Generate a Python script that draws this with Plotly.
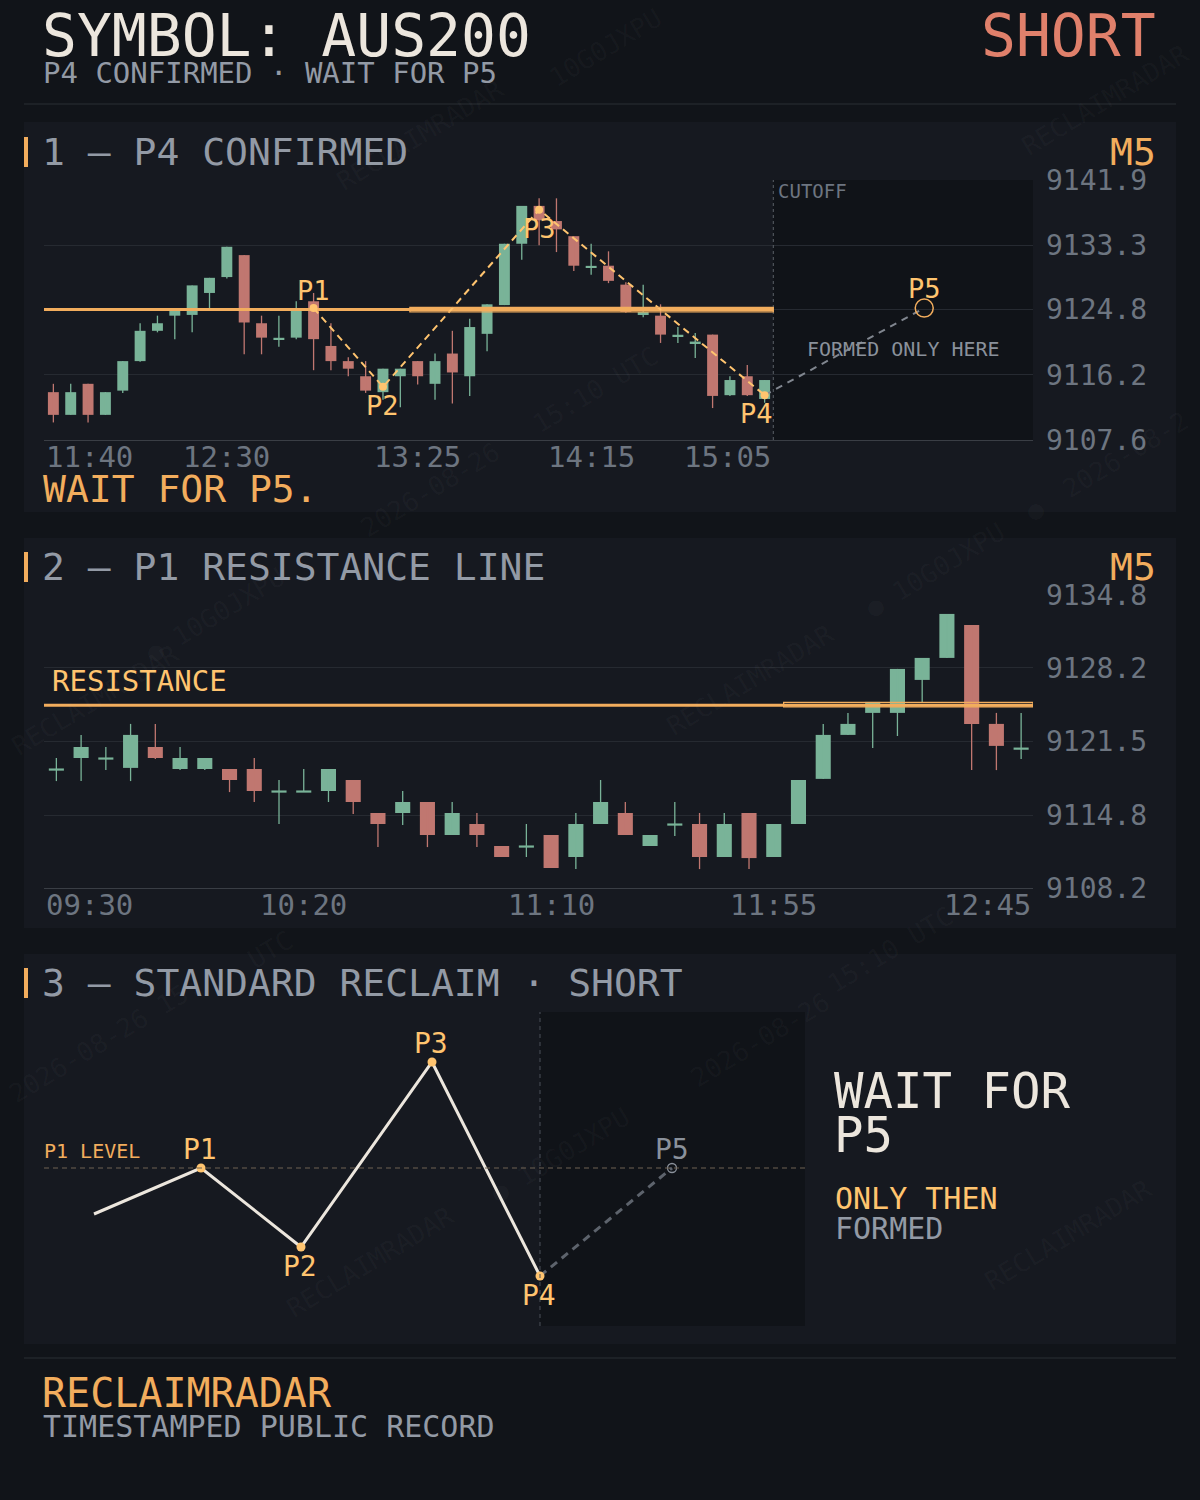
import plotly.graph_objects as go

# ---------------- data ----------------
symbol = "AUS200"
direction = "SHORT"
timeframe = "M5"
status = "P4 CONFIRMED · WAIT FOR P5"

# Panel 1 – P4 confirmed (M5 candles 11:40 -> 15:05)
p1_open = [9113.9, 9110.9, 9115.0, 9110.9, 9114.1, 9118.0, 9122.0, 9124.0, 9124.1, 9127.0,
           9129.1, 9132.0, 9123.0, 9120.9, 9121.1, 9125.9, 9120.0, 9118.0, 9116.0, 9113.9,
           9116.0, 9118.0, 9115.0, 9119.0, 9116.0, 9121.6, 9125.4, 9133.5, 9138.5, 9136.5,
           9134.5, 9130.4, 9130.6, 9128.1, 9124.3, 9124.0, 9121.3, 9120.4, 9121.5, 9113.5,
           9116.0, 9113.0]
p1_high = [9115.0, 9115.0, 9115.0, 9113.9, 9118.0, 9123.0, 9124.0, 9125.0, 9128.0, 9129.0,
           9133.1, 9132.0, 9124.0, 9124.0, 9125.9, 9127.0, 9123.0, 9118.5, 9118.0, 9117.0,
           9117.0, 9118.0, 9119.0, 9122.0, 9123.6, 9125.5, 9133.5, 9138.5, 9139.5, 9139.5,
           9134.5, 9133.5, 9132.5, 9128.4, 9128.1, 9125.5, 9122.5, 9121.7, 9121.5, 9116.0,
           9117.5, 9115.5]
p1_low = [9109.9, 9110.9, 9109.9, 9110.9, 9113.8, 9117.9, 9121.8, 9120.9, 9121.8, 9124.9,
          9128.9, 9118.9, 9118.9, 9119.9, 9120.9, 9116.8, 9116.8, 9116.0, 9113.8, 9112.9,
          9111.9, 9114.9, 9112.9, 9112.4, 9113.4, 9119.3, 9125.4, 9131.4, 9133.3, 9132.4,
          9129.9, 9129.4, 9128.3, 9124.4, 9123.8, 9120.4, 9120.4, 9118.4, 9111.8, 9113.4,
          9113.4, 9112.5]
p1_close = [9110.9, 9113.9, 9110.9, 9113.9, 9118.0, 9122.0, 9123.0, 9125.0, 9128.0, 9129.0,
            9133.1, 9123.1, 9121.1, 9121.0, 9125.0, 9120.9, 9118.0, 9117.0, 9114.1, 9117.0,
            9117.0, 9116.0, 9118.0, 9116.5, 9122.5, 9125.5, 9133.5, 9138.5, 9136.6, 9135.4,
            9130.6, 9130.5, 9128.6, 9124.5, 9124.4, 9121.5, 9121.4, 9120.5, 9113.4, 9115.5,
            9113.5, 9115.5]
p1_time_labels = ["11:40", "12:30", "13:25", "14:15", "15:05"]
p1_time_index = [0, 10, 21, 31, 41]
p1_yticks = [9107.6, 9116.2, 9124.8, 9133.3, 9141.9]
p1_point_labels = ["P1", "P2", "P3", "P4"]
p1_point_index = [15, 19, 28, 41]
p1_point_price = [9125.0, 9114.6, 9138.0, 9113.5]
p1_p5_index = 50.2
p1_p5_price = 9125.0
p1_cutoff_index = 41.5
p1_x_range = [-0.54, 56.47]
p1_zone_start = 20.55

resistance = 9124.8

# Panel 2 – P1 resistance line (M5 candles 09:30 -> 12:45)
p2_open = [9118.9, 9120.0, 9119.9, 9119.1, 9121.0, 9119.0, 9119.0, 9119.0, 9119.0, 9116.9,
           9116.9, 9117.0, 9118.0, 9115.0, 9115.0, 9116.0, 9113.0, 9114.0, 9112.0, 9111.9,
           9113.0, 9111.0, 9114.0, 9115.0, 9112.0, 9113.9, 9114.0, 9111.0, 9115.0, 9111.0,
           9114.0, 9118.1, 9122.1, 9124.1, 9124.1, 9127.1, 9129.1, 9132.1, 9123.1, 9120.8]
p2_high = [9120.0, 9122.1, 9121.0, 9123.1, 9123.1, 9121.0, 9120.0, 9119.0, 9120.0, 9118.0,
           9119.0, 9119.0, 9118.0, 9115.0, 9117.0, 9116.0, 9116.0, 9115.0, 9112.0, 9114.0,
           9113.0, 9115.0, 9118.0, 9116.0, 9113.0, 9116.0, 9115.0, 9115.0, 9115.0, 9114.0,
           9118.0, 9123.1, 9124.1, 9125.1, 9128.1, 9129.1, 9133.1, 9132.1, 9124.1, 9124.1]
p2_low = [9117.9, 9117.9, 9118.9, 9117.9, 9119.9, 9118.9, 9118.9, 9116.9, 9116.0, 9114.0,
          9116.9, 9116.0, 9114.9, 9111.9, 9113.9, 9111.9, 9113.0, 9111.9, 9111.0, 9111.0,
          9110.0, 9109.9, 9114.0, 9113.0, 9112.0, 9112.9, 9109.9, 9111.0, 9109.9, 9111.0,
          9114.0, 9118.1, 9122.1, 9120.9, 9122.0, 9125.1, 9129.1, 9118.9, 9118.9, 9119.9]
p2_close = [9119.0, 9121.0, 9120.0, 9122.1, 9120.0, 9120.0, 9120.0, 9118.0, 9117.0, 9117.0,
            9117.0, 9119.0, 9116.0, 9114.0, 9116.0, 9113.0, 9115.0, 9113.0, 9111.0, 9112.0,
            9110.0, 9114.0, 9116.0, 9113.0, 9113.0, 9114.0, 9111.0, 9114.0, 9110.9, 9114.0,
            9118.0, 9122.1, 9123.1, 9125.1, 9128.1, 9129.1, 9133.1, 9123.1, 9121.1, 9120.9]
p2_time_labels = ["09:30", "10:20", "11:10", "11:55", "12:45"]
p2_time_index = [0, 10, 20, 29, 39]
p2_yticks = [9108.2, 9114.8, 9121.5, 9128.2, 9134.8]
p2_x_range = [-0.5, 39.48]
p2_zone_start = 29.4

# Panel 3 – standard reclaim schematic (abstract units, P1 level = 0)
s_labels = ["", "P1", "P2", "P3", "P4"]
s_x = [0.50, 1.57, 2.57, 3.88, 4.96]
s_y = [-0.46, 0.0, -0.79, 1.06, -1.08]
s_p5_x = 6.28
s_p5_y = 0.0
s_x_range = [0, 7.61]
s_y_range = [-1.58, 1.56]

# watermark segments (text, x px, y px)
watermarks = [("RECLAIMRADAR", 420, 135), ("10G0JXPU", 605, 48), ("RECLAIMRADAR", 1105, 100),
              ("15:10 UTC", 595, 390), ("2026-08-26", 430, 490), ("● 10G0JXPU", 215, 615),
              ("RECLAIMRADAR", 750, 680), ("● 10G0JXPU", 935, 570), ("2026-08-2", 1125, 455),
              ("RECLAIMRADAR", 95, 700), ("UTC", 270, 950), ("15:10 UTC", 890, 950),
              ("2026-08-26 15:", 105, 1040), ("2026-08-26", 760, 1040), ("● 10G0JXPU", 560, 1155),
              ("RECLAIMRADAR", 370, 1262), ("RECLAIMRADAR", 1068, 1235), ("●", 1035, 510)]

# ---------------- style ----------------
FONT = "DejaVu Sans Mono"
W, H = 1200, 1500
BG = "#111419"
PANEL = "#161920"
FUTURE = "#101318"
GRID = "#262a31"
AXLINE = "#3a3e45"
GREEN = "#79b398"
RED = "#c07770"
ORANGE = "#f2ad5d"
ORANGE_LT = "#ffc46f"
CREAM = "#ece6dd"
GRAY = "#939aa5"
TICK = "#6d7580"
SALMON = "#e0806b"


def PX(x):
    return x / W


def PY(y):
    return 1 - y / H


fig = go.Figure()
shapes = []
ann = []


def txt(text, x, y, size, color, xanchor="left", **kw):
    ann.append(dict(text=text, x=PX(x), y=PY(y), xref="paper", yref="paper",
                    xanchor=xanchor, yanchor="middle", showarrow=False,
                    font=dict(family=FONT, size=size, color=color), **kw))


def candles(o, h, l, c, xa, ya, body_w, min_body):
    idx = list(range(len(o)))
    up = [c[i] >= o[i] for i in idx]
    for color, flag in ((GREEN, True), (RED, False)):
        wx, wy = [], []
        for i in idx:
            if up[i] == flag:
                wx += [i, i, None]
                wy += [l[i], h[i], None]
        fig.add_trace(go.Scatter(x=wx, y=wy, mode="lines", line=dict(color=color, width=1.3),
                                 xaxis=xa, yaxis=ya, hoverinfo="skip", showlegend=False))
    base, hgt = [], []
    for i in idx:
        lo, hi = min(o[i], c[i]), max(o[i], c[i])
        if hi - lo < min_body:
            mid = (hi + lo) / 2
            lo, hi = mid - min_body / 2, mid + min_body / 2
        base.append(lo)
        hgt.append(hi - lo)
    fig.add_trace(go.Bar(x=idx, y=hgt, base=base, width=body_w,
                         marker=dict(color=[GREEN if u else RED for u in up], line=dict(width=0)),
                         xaxis=xa, yaxis=ya, hoverinfo="skip", showlegend=False))


# ---------- page frame ----------
for (y0, y1) in ((122, 512), (538, 928), (954, 1344)):
    shapes.append(dict(type="rect", xref="paper", yref="paper", x0=PX(24), x1=PX(1176),
                       y0=PY(y1), y1=PY(y0), fillcolor=PANEL, line=dict(width=0), layer="below"))
for yc in (152, 567, 983):
    shapes.append(dict(type="rect", xref="paper", yref="paper", x0=PX(24), x1=PX(28),
                       y0=PY(yc + 15), y1=PY(yc - 15), fillcolor=ORANGE, line=dict(width=0), layer="below"))
for yl in (104, 1358):
    shapes.append(dict(type="line", xref="paper", yref="paper", x0=PX(24), x1=PX(1176),
                       y0=PY(yl), y1=PY(yl), line=dict(color="#2a2e35", width=1), layer="below"))

for (wt, wx, wy) in watermarks:
    txt(wt, wx, wy, 26, "rgba(200,205,215,0.045)", xanchor="center", textangle=-31)

# ---------- header ----------
txt(f"SYMBOL: {symbol}", 40, 36, 58, CREAM)
txt(status, 41, 73, 29, GRAY)
txt(direction, 1158, 36, 58, SALMON, xanchor="right")

# ---------- panel 1 ----------
txt("1 — P4 CONFIRMED", 40, 152, 38, GRAY)
txt(timeframe, 1158, 152, 38, ORANGE, xanchor="right")
txt("WAIT FOR P5.", 41, 489, 38, ORANGE)

shapes.append(dict(type="rect", xref="x", yref="y domain", x0=p1_cutoff_index, x1=p1_x_range[1],
                   y0=0, y1=1, fillcolor=FUTURE, line=dict(width=0), layer="below"))
shapes.append(dict(type="line", xref="x", yref="y domain", x0=p1_cutoff_index, x1=p1_cutoff_index,
                   y0=0, y1=1, line=dict(color="#5a5f67", width=1, dash="3px,3px")))
candles(p1_open, p1_high, p1_low, p1_close, "x", "y", 0.63, 0.26)
fig.add_trace(go.Scatter(x=[p1_x_range[0], p1_cutoff_index], y=[resistance, resistance], mode="lines",
                         line=dict(color=ORANGE, width=3), xaxis="x", yaxis="y",
                         hoverinfo="skip", showlegend=False))
shapes.append(dict(type="rect", xref="x", yref="y", x0=p1_zone_start, x1=p1_cutoff_index,
                   y0=resistance - 0.3, y1=resistance + 0.3, fillcolor="rgba(0,0,0,0)",
                   line=dict(color=ORANGE, width=1.3)))
fig.add_trace(go.Scatter(x=p1_point_index, y=p1_point_price, mode="lines",
                         line=dict(color=ORANGE_LT, width=2, dash="7px,5px"),
                         xaxis="x", yaxis="y", hoverinfo="skip", showlegend=False))
fig.add_trace(go.Scatter(x=[p1_point_index[-1], p1_p5_index], y=[p1_point_price[-1], p1_p5_price],
                         mode="lines", line=dict(color="#80868f", width=2, dash="7px,6px"),
                         xaxis="x", yaxis="y", hoverinfo="skip", showlegend=False))
fig.add_trace(go.Scatter(x=p1_point_index, y=p1_point_price, mode="markers",
                         marker=dict(color=ORANGE_LT, size=8),
                         xaxis="x", yaxis="y", hoverinfo="skip", showlegend=False))
fig.add_trace(go.Scatter(x=[p1_p5_index], y=[p1_p5_price], mode="markers",
                         marker=dict(color="rgba(0,0,0,0)", size=18, line=dict(color=ORANGE, width=1.5)),
                         xaxis="x", yaxis="y", hoverinfo="skip", showlegend=False))
p1_shift = {"P1": (0, 18), "P2": (0, -19), "P3": (0, -19), "P4": (-8, -18)}
for lab, xi, yv in zip(p1_point_labels, p1_point_index, p1_point_price):
    dx, dy = p1_shift[lab]
    ann.append(dict(text=lab, x=xi, y=yv, xref="x", yref="y", showarrow=False, xshift=dx, yshift=dy,
                    font=dict(family=FONT, size=27, color=ORANGE_LT)))
ann.append(dict(text="P5", x=p1_p5_index, y=p1_p5_price, xref="x", yref="y", showarrow=False, yshift=20,
                font=dict(family=FONT, size=27, color=ORANGE_LT)))
ann.append(dict(text="CUTOFF", x=p1_cutoff_index, y=1, xref="x", yref="y domain", showarrow=False,
                xanchor="left", yanchor="top", xshift=3, yshift=2,
                font=dict(family=FONT, size=19, color=TICK)))
ann.append(dict(text="FORMED ONLY HERE", x=(p1_cutoff_index + p1_x_range[1]) / 2,
                y=(p1_point_price[-1] + p1_p5_price) / 2 + 0.4,
                xref="x", yref="y", showarrow=False,
                font=dict(family=FONT, size=20, color="#8a919b")))
for k, (lab, xi) in enumerate(zip(p1_time_labels, p1_time_index)):
    if k == 0:
        xv, xa = p1_x_range[0], "left"
    elif k == len(p1_time_labels) - 1:
        xv, xa = p1_cutoff_index, "right"
    else:
        xv, xa = xi, "center"
    ann.append(dict(text=lab, x=xv, y=PY(457), xref="x", yref="paper", xanchor=xa, yanchor="middle",
                    showarrow=False, font=dict(family=FONT, size=29, color=TICK)))

# ---------- panel 2 ----------
txt("2 — P1 RESISTANCE LINE", 40, 567, 38, GRAY)
txt(timeframe, 1158, 567, 38, ORANGE, xanchor="right")
candles(p2_open, p2_high, p2_low, p2_close, "x2", "y2", 0.61, 0.2)
fig.add_trace(go.Scatter(x=p2_x_range, y=[resistance, resistance], mode="lines",
                         line=dict(color=ORANGE, width=3), xaxis="x2", yaxis="y2",
                         hoverinfo="skip", showlegend=False))
shapes.append(dict(type="rect", xref="x2", yref="y2", x0=p2_zone_start, x1=p2_x_range[1],
                   y0=resistance - 0.15, y1=resistance + 0.25, fillcolor="rgba(0,0,0,0)",
                   line=dict(color=ORANGE, width=1.3)))
ann.append(dict(text="RESISTANCE", x=p2_x_range[0], y=resistance, xref="x2", yref="y2",
                xanchor="left", yanchor="bottom", xshift=6, yshift=5, showarrow=False,
                font=dict(family=FONT, size=29, color=ORANGE_LT)))
for k, (lab, xi) in enumerate(zip(p2_time_labels, p2_time_index)):
    if k == 0:
        xv, xa = p2_x_range[0], "left"
    elif k == len(p2_time_labels) - 1:
        xv, xa = p2_x_range[1], "right"
    else:
        xv, xa = xi, "center"
    ann.append(dict(text=lab, x=xv, y=PY(905), xref="x2", yref="paper", xanchor=xa, yanchor="middle",
                    showarrow=False, font=dict(family=FONT, size=29, color=TICK)))

# ---------- panel 3 ----------
txt("3 — STANDARD RECLAIM · SHORT", 40, 983, 38, GRAY)
shapes.append(dict(type="rect", xref="x3", yref="y3 domain", x0=s_x[4], x1=s_x_range[1], y0=0, y1=1,
                   fillcolor=FUTURE, line=dict(width=0), layer="below"))
shapes.append(dict(type="line", xref="x3", yref="y3 domain", x0=s_x[4], x1=s_x[4], y0=0, y1=1,
                   line=dict(color="#4b5058", width=1, dash="4px,4px")))
shapes.append(dict(type="line", xref="x3 domain", yref="y3", x0=0, x1=1, y0=s_y[1], y1=s_y[1],
                   line=dict(color="#6f6352", width=1.2, dash="5px,4px")))
fig.add_trace(go.Scatter(x=s_x, y=s_y, mode="lines", line=dict(color=CREAM, width=3),
                         xaxis="x3", yaxis="y3", hoverinfo="skip", showlegend=False))
fig.add_trace(go.Scatter(x=[s_x[4], s_p5_x], y=[s_y[4], s_p5_y], mode="lines",
                         line=dict(color="#5d636c", width=3, dash="8px,6px"),
                         xaxis="x3", yaxis="y3", hoverinfo="skip", showlegend=False))
fig.add_trace(go.Scatter(x=s_x[1:], y=s_y[1:], mode="markers", marker=dict(color=ORANGE_LT, size=9),
                         xaxis="x3", yaxis="y3", hoverinfo="skip", showlegend=False))
fig.add_trace(go.Scatter(x=[s_p5_x], y=[s_p5_y], mode="markers",
                         marker=dict(color="rgba(0,0,0,0)", size=9, line=dict(color="#8a919b", width=1.3)),
                         xaxis="x3", yaxis="y3", hoverinfo="skip", showlegend=False))
for lab, xv, yv in zip(s_labels, s_x, s_y):
    if not lab:
        continue
    above = lab in ("P1", "P3")
    ann.append(dict(text=lab, x=xv, y=yv, xref="x3", yref="y3", showarrow=False,
                    yshift=19 if above else -19, xshift=-1,
                    font=dict(family=FONT, size=28, color=ORANGE_LT)))
ann.append(dict(text="P5", x=s_p5_x, y=s_p5_y, xref="x3", yref="y3", showarrow=False, yshift=19,
                font=dict(family=FONT, size=28, color="#8a919b")))
ann.append(dict(text="P1 LEVEL", x=0, y=s_y[1], xref="x3 domain", yref="y3", showarrow=False,
                xanchor="left", yanchor="bottom", xshift=-2, yshift=3,
                font=dict(family=FONT, size=20, color=ORANGE)))
txt("WAIT FOR", 832, 1091, 49, CREAM)
txt("P5", 832, 1135, 49, CREAM)
txt("ONLY THEN", 833, 1198, 30, ORANGE_LT)
txt("FORMED", 833, 1228, 30, GRAY)

# ---------- footer ----------
txt("RECLAIMRADAR", 40, 1393, 40, ORANGE)
txt("TIMESTAMPED PUBLIC RECORD", 41, 1426, 30, GRAY)

# ---------- axes ----------
x_dom = [PX(44), PX(1033)]
common_x = dict(showgrid=False, zeroline=False, showticklabels=False, fixedrange=True)
common_y = dict(side="right", showgrid=True, gridcolor=GRID, gridwidth=1, zeroline=False,
                showline=False, ticks="", ticklabelstandoff=12,
                tickfont=dict(family=FONT, size=28, color=TICK), fixedrange=True)

fig.update_layout(
    width=W, height=H, autosize=False,
    margin=dict(l=0, r=0, t=0, b=0, pad=0, autoexpand=False),
    paper_bgcolor=BG, plot_bgcolor="rgba(0,0,0,0)",
    barmode="overlay", showlegend=False,
    xaxis=dict(domain=x_dom, range=p1_x_range, anchor="y", showline=True, linecolor=AXLINE, **common_x),
    yaxis=dict(domain=[PY(440), PY(180)], range=[p1_yticks[0] - 0.02, p1_yticks[-1] + 0.02], anchor="x",
               tickvals=p1_yticks, ticktext=[f"{v:.1f}" for v in p1_yticks], **common_y),
    xaxis2=dict(domain=x_dom, range=p2_x_range, anchor="y2", showline=True, linecolor=AXLINE, **common_x),
    yaxis2=dict(domain=[PY(888), PY(595)], range=[p2_yticks[0] - 0.02, p2_yticks[-1] + 0.02], anchor="x2",
                tickvals=p2_yticks, ticktext=[f"{v:.1f}" for v in p2_yticks], **common_y),
    xaxis3=dict(domain=[PX(44), PX(805)], range=s_x_range, anchor="y3", visible=False),
    yaxis3=dict(domain=[PY(1326), PY(1012)], range=s_y_range, anchor="x3", visible=False),
    shapes=shapes,
    annotations=ann,
)

fig.write_html(
    "out.html",
    config={"displayModeBar": False, "responsive": False},
    post_script="document.body.style.margin='0';document.body.style.background='" + BG + "';"
                "document.documentElement.style.background='" + BG + "';"
                "document.body.style.overflow='hidden';",
)
